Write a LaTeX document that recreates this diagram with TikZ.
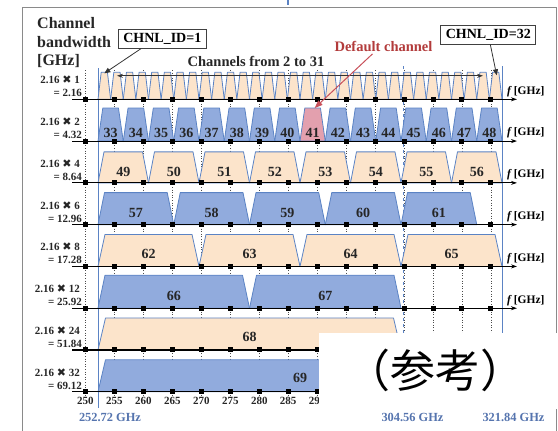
\documentclass[tikz,border=0pt]{standalone}
\usepackage{fontspec}
\setmainfont{Liberation Serif}
\newfontfamily\cjkfont{Noto Sans CJK JP}
\newfontfamily\symfont{DejaVu Sans}
\usetikzlibrary{arrows.meta}
\definecolor{peach}{HTML}{FCE4CB}
\definecolor{chblue}{HTML}{91ABDD}
\definecolor{chpink}{HTML}{E3A0AE}
\definecolor{edgeblue}{HTML}{5B83C4}
\definecolor{lblblue}{HTML}{5574AE}
\definecolor{defred}{HTML}{B23B3B}
\definecolor{arrred}{HTML}{C8505A}
\definecolor{framegray}{HTML}{8A8A8A}
\tikzset{
  chan/.style={draw=edgeblue, line width=0.8pt, line join=round},
  chnum/.style={font=\fontsize{14}{16}\selectfont\bfseries, text=black!85, inner sep=0pt},
  rowlbl/.style={anchor=base east, font=\fontsize{11}{13}\selectfont\bfseries, text=black!85, inner sep=0pt},
  flabel/.style={anchor=west, font=\fontsize{11.5}{13}\selectfont\bfseries, inner sep=0pt},
  ticklbl/.style={font=\fontsize{11}{13}\selectfont\bfseries, text=black!85, inner sep=0pt},
  ghzlbl/.style={font=\fontsize{12.4}{14}\selectfont\bfseries, text=lblblue, inner sep=0pt},
  idbox/.style={draw=black!75, line width=0.8pt, font=\fontsize{14}{16}\selectfont\bfseries, inner xsep=5pt, inner ysep=3pt, minimum height=19pt},
  axisline/.style={draw=black, line width=1.1pt, -{Stealth[length=6pt,width=4pt]}},
  tickdot/.style={draw=black!70, line width=0.6pt, dotted},
  ptr/.style={draw=black!80, line width=0.8pt, -{Triangle[length=6pt,width=5pt]}},
}
\begin{document}
\begin{tikzpicture}[x=1pt,y=-1pt]
\useasboundingbox (0,0) rectangle (558,431);
% frame
\draw[framegray, line width=0.8pt] (22,431) -- (22,7) -- (556,7) -- (556,431);
\fill[edgeblue] (286.5,0) rectangle (289,4.5);
% dotted tick lines
\foreach \k in {0,...,14}
  \draw[tickdot] (85.5+28.96*\k,70) -- (85.5+28.96*\k,396);
% band edge lines
\draw[edgeblue, line width=1pt] (98,68) -- (98,408);
\draw[edgeblue, line width=1pt] (502,66) -- (502,408);
\draw[edgeblue, line width=0.9pt, dash pattern=on 3pt off 3pt] (403,66) -- (403,408);
% channels
\foreach \r/\w/\n/\first/\col/\ins/\h/\lo in {
 0/2.16/32/1/peach/3.2/27/0,
 1/4.32/16/33/chblue/4.8/33/8,
 2/8.64/8/49/peach/6/31/10.5,
 3/12.96/5/57/chblue/6.5/32/12,
 4/17.28/4/62/peach/7/32/12,
 5/25.92/2/66/chblue/7/33/12,
 6/51.84/1/68/peach/7.5/32/13,
 7/69.12/1/69/chblue/7.5/32/13.5}{
 \pgfmathsetmacro\ay{99.3+41.78*\r}
 \pgfmathsetmacro\cw{5.845*\w}
 \pgfmathtruncatemacro\last{\n-1}
 \foreach \k in {0,...,\last}{
   \pgfmathsetmacro\xa{98+\cw*\k}
   \pgfmathsetmacro\xb{\xa+\cw}
   \pgfmathsetmacro\xm{(\xa+\xb)/2}
   \pgfmathtruncatemacro\id{\first+\k}
   \ifnum\id=41 \def\fc{chpink}\else\def\fc{\col}\fi
   \filldraw[chan, fill=\fc] (\xa,\ay) -- (\xa+\ins,\ay-\h) -- (\xb-\ins,\ay-\h) -- (\xb,\ay) -- cycle;
   \coordinate (top\id) at (\xm,\ay-\h);
   \ifnum\r>0 \node[chnum] (n\id) at (\xm,\ay-\lo) {\id}; \fi
 }
}
% axes, markers, f labels
\foreach \r in {0,...,7}{
  \pgfmathsetmacro\ay{99.3+41.78*\r}
  \draw[axisline] (72,\ay) -- (517,\ay);
  \foreach \k in {0,...,14}
    \fill[black] (85.5+28.96*\k-2.5,\ay-2.5) rectangle ++(5,5);
}
\foreach \r in {0,...,5}{
  \pgfmathsetmacro\ay{99.3+41.78*\r}
  \node[flabel] (f\r) at (507,\ay-8) {\textit{f}\,[GHz]};
}
% row labels
\foreach \r/\m/\v in {0/1/2.16, 1/2/4.32, 2/4/8.64, 3/6/12.96, 4/8/17.28, 5/12/25.92, 6/24/51.84, 7/32/69.12}{
  \pgfmathsetmacro\ay{99.3+41.78*\r}
  \node[rowlbl] (m\r) at (80,\ay-15.5) {2.16 {\symfont\fontsize{11}{12}\selectfont ✖} \m};
  \node[rowlbl] (v\r) at (82,\ay-2.5) {= \v};
}
% header
\node[anchor=base west, inner sep=0pt, font=\fontsize{16}{18}\selectfont\bfseries, text=black!85] (h1) at (37,28.5) {Channel};
\node[anchor=base west, inner sep=0pt, font=\fontsize{16}{18}\selectfont\bfseries, text=black!85] (h2) at (37,47) {bandwidth};
\node[anchor=base west, inner sep=0pt, font=\fontsize{16}{18}\selectfont\bfseries, text=black!85] (h3) at (37,65.5) {[GHz]};
% ID boxes and pointers
\node[idbox] (id1) at (162.3,38.8) {CHNL\_ID=1};
\node[idbox] (id32) at (488.3,34.5) {CHNL\_ID=32};
\coordinate (p1) at ([yshift=-1pt]top1);
\coordinate (p32) at ([xshift=1pt,yshift=-3pt]top32);
\draw[ptr] (id1.south west) ++(23,0) coordinate (s1) -- (p1);
\draw[ptr] (id32.south) ++(2,0) coordinate (s32) -- (p32);
% channels from 2 to 31
\node[inner sep=0pt, font=\fontsize{14.5}{16}\selectfont\bfseries, text=black!85] (c231) at (256,61) {Channels from 2 to 31};
\coordinate (a2) at ([yshift=-3.5pt]top2);
\coordinate (a31) at ([yshift=-3.5pt]top31);
\draw[black!80, line width=0.7pt, {Stealth[length=6pt,width=4pt]}-{Stealth[length=6pt,width=4pt]}] (a2) -- (a31);
% default channel
\node[inner sep=0pt, font=\fontsize{14.5}{16}\selectfont\bfseries, text=defred] (dc) at (383.5,46.5) {Default channel};
\draw[arrred, line width=1pt, -{Triangle[length=8pt,width=6pt]}] (dc.south) ++(-11,2) coordinate (ds) -- ([xshift=2pt]top41);
% tick labels
\foreach \k in {0,...,14}{
  \pgfmathtruncatemacro\val{250+5*\k}
  \node[ticklbl] (t\k) at (85.5+28.96*\k,401) {\val};
}
\node[ghzlbl] (g1) at (110,417) {252.72 GHz};
\node[ghzlbl] (g2) at (412.5,417) {304.56 GHz};
\node[ghzlbl] (g3) at (513.5,417) {321.84 GHz};
% reference overlay
\fill[white] (319,333) rectangle (558,409);
\node[inner sep=0pt, font=\cjkfont\fontsize{45}{47}\selectfont] (ref) at (435,370) {（参考）};
\end{tikzpicture}
\end{document}
